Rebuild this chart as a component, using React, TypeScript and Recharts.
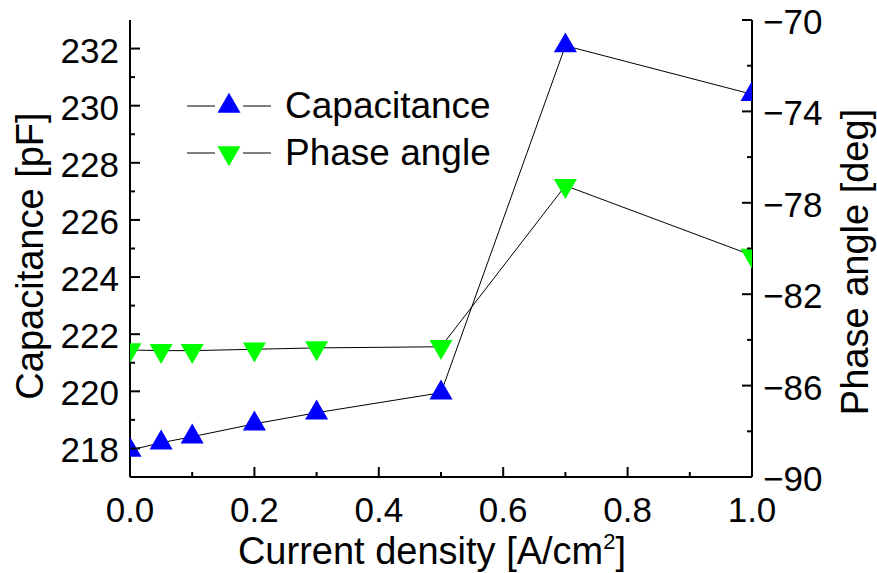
import { LineChart, Line, XAxis, YAxis, Legend, Label, Symbols } from 'recharts';

const density = [0, 0.05, 0.1, 0.2, 0.3, 0.5, 0.7, 1.0];
const capacitance = [217.94, 218.2, 218.41, 218.86, 219.25, 219.95, 232.1, 230.4];
const phaseAngle = [-84.44, -84.47, -84.47, -84.41, -84.35, -84.3, -77.25, -80.3];

const xTicks = [0, 0.1, 0.2, 0.3, 0.4, 0.5, 0.6, 0.7, 0.8, 0.9, 1.0];
const capTicks = [217, 218, 219, 220, 221, 222, 223, 224, 225, 226, 227, 228, 229, 230, 231, 232, 233];
const phaseTicks = [-90, -88, -86, -84, -82, -80, -78, -76, -74, -72, -70];

const data = density.map((d, i) => ({ density: d, capacitance: capacitance[i], phase: phaseAngle[i] }));

const FONT = '"Liberation Sans", Arial, sans-serif';
const BLUE = '#0000ff';
const GREEN = '#00ff00';
const MARKER = 230;

const XTick = (props: any) => {
  const { x, y, payload, top } = props;
  const major = Math.round(payload.value * 10) % 2 === 0;
  const len = major ? 10 : 5;
  return (
    <g>
      <line x1={x} x2={x} y1={y} y2={top ? y + len : y - len} stroke="#000" strokeWidth={2} />
      {!top && major && (
        <text x={x} y={y + 45} textAnchor="middle" fontSize={35} fontFamily={FONT} fill="#000">
          {payload.value.toFixed(1)}
        </text>
      )}
    </g>
  );
};

const CapTick = (props: any) => {
  const { x, y, payload } = props;
  const v = payload.value;
  if (v === 217 || v === 233) return <g />;
  const major = v % 2 === 0;
  return (
    <g>
      <line x1={x} x2={x + (major ? 10 : 5)} y1={y} y2={y} stroke="#000" strokeWidth={2} />
      {major && (
        <text x={x - 11} y={y + 14} textAnchor="end" fontSize={35} fontFamily={FONT} fill="#000">
          {v}
        </text>
      )}
    </g>
  );
};

const PhaseTick = (props: any) => {
  const { x, y, payload } = props;
  const v = payload.value;
  const major = (v + 70) % 4 === 0;
  return (
    <g>
      <line x1={x} x2={x - (major ? 10 : 5)} y1={y} y2={y} stroke="#000" strokeWidth={2} />
      {major && (
        <text x={x + 11} y={y + 14} textAnchor="start" fontSize={35} fontFamily={FONT} fill="#000">
          {String(v).replace('-', '\u2212')}
        </text>
      )}
    </g>
  );
};

const UpDot = (props: any) => (
  <Symbols key={props.key} cx={props.cx} cy={props.cy} type="triangle" size={MARKER} fill={BLUE} />
);

const DownDot = (props: any) => (
  <g key={props.key} transform={`rotate(180 ${props.cx} ${props.cy})`}>
    <Symbols cx={props.cx} cy={props.cy} type="triangle" size={MARKER} fill={GREEN} />
  </g>
);

const legendItems = [
  { name: 'Capacitance', color: BLUE, down: false },
  { name: 'Phase angle', color: GREEN, down: true },
];

const renderLegend = () => (
  <div style={{ fontFamily: FONT, fontSize: 37, lineHeight: '47px' }}>
    {legendItems.map((it) => (
      <div key={it.name} style={{ display: 'flex', alignItems: 'center', height: 47 }}>
        <svg width={96} height={30} style={{ marginRight: 2 }}>
          <line x1={0} x2={28} y1={15} y2={15} stroke="#000" strokeWidth={1} />
          <line x1={56} x2={84} y1={15} y2={15} stroke="#000" strokeWidth={1} />
          <g transform={it.down ? 'rotate(180 42 15)' : undefined}>
            <Symbols cx={42} cy={15} type="triangle" size={MARKER} fill={it.color} />
          </g>
        </svg>
        <span>{it.name}</span>
      </div>
    ))}
  </div>
);

export default function App() {
  return (
    <div style={{ width: 877, height: 573, background: '#fff' }}>
      <style>{`body{margin:0}`}</style>
      <LineChart width={877} height={573} data={data} margin={{ top: 20, right: 0, bottom: 0, left: 0 }}>
        <XAxis
          dataKey="density"
          type="number"
          domain={[0, 1]}
          ticks={xTicks}
          height={96}
          tickSize={0}
          tickMargin={0}
          tickLine={false}
          axisLine={{ stroke: '#000', strokeWidth: 2 }}
          tick={<XTick />}
          allowDataOverflow
        >
          <Label
            content={() => (
              <text x={432} y={564} textAnchor="middle" fontSize={38} fontFamily={FONT} fill="#000">
                Current density [A/cm
                <tspan dy={-15} fontSize={22}>2</tspan>
                <tspan dy={15}>]</tspan>
              </text>
            )}
          />
        </XAxis>
        <XAxis
          xAxisId="top"
          orientation="top"
          type="number"
          domain={[0, 1]}
          ticks={xTicks}
          height={0}
          tickSize={0}
          tickMargin={0}
          tickLine={false}
          axisLine={{ stroke: '#000', strokeWidth: 2 }}
          tick={<XTick top />}
          allowDataOverflow
        />
        <YAxis
          yAxisId="left"
          type="number"
          domain={[217, 233]}
          ticks={capTicks}
          width={130}
          tickSize={0}
          tickMargin={0}
          tickLine={false}
          axisLine={{ stroke: '#000', strokeWidth: 2 }}
          tick={<CapTick />}
          interval={0}
          allowDataOverflow
        >
          <Label
            content={() => (
              <text transform="translate(43 256) rotate(-90)" textAnchor="middle" fontSize={38} fontFamily={FONT} fill="#000">
                Capacitance [pF]
              </text>
            )}
          />
        </YAxis>
        <YAxis
          yAxisId="right"
          orientation="right"
          type="number"
          domain={[-90, -70]}
          ticks={phaseTicks}
          width={125}
          tickSize={0}
          tickMargin={0}
          tickLine={false}
          axisLine={{ stroke: '#000', strokeWidth: 2 }}
          tick={<PhaseTick />}
          interval={0}
          allowDataOverflow
        >
          <Label
            content={() => (
              <text transform="translate(868 262) rotate(-90)" textAnchor="middle" fontSize={38} fontFamily={FONT} fill="#000">
                Phase angle [deg]
              </text>
            )}
          />
        </YAxis>
        <Legend
          layout="vertical"
          align="center"
          verticalAlign="middle"
          content={renderLegend}
          wrapperStyle={{ left: 187, top: 82, width: 340 }}
        />
        <Line
          yAxisId="left"
          dataKey="capacitance"
          name="Capacitance"
          stroke="#000"
          strokeWidth={1}
          dot={UpDot}
          activeDot={false}
          isAnimationActive={false}
        />
        <Line
          yAxisId="right"
          dataKey="phase"
          name="Phase angle"
          stroke="#000"
          strokeWidth={1}
          dot={DownDot}
          activeDot={false}
          isAnimationActive={false}
        />
      </LineChart>
    </div>
  );
}
